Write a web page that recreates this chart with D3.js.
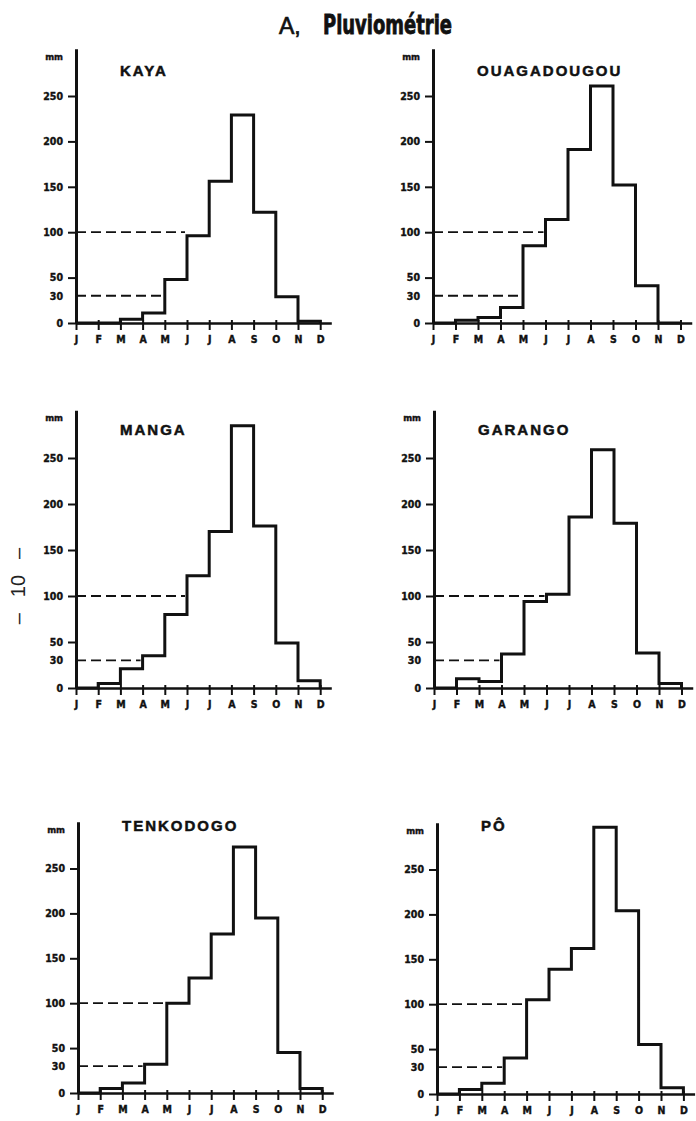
<!DOCTYPE html>
<html>
<head>
<meta charset="utf-8">
<script src="https://cdn.jsdelivr.net/npm/d3@7"></script>
<style>
  body { margin: 0; background: #fff; }
  svg { display: block; }
</style>
</head>
<body>
<svg id="chart" width="696" height="1121"></svg>
<script>
// monthly rainfall (mm)
const months = ["J", "F", "M", "A", "M", "J", "J", "A", "S", "O", "N", "D"];
const stations = ["KAYA", "OUAGADOUGOU", "MANGA", "GARANGO", "TENKODOGO", "PÔ"];
const kaya        = [0, 0, 4, 11, 48, 96, 156, 229, 122, 29, 2, 0];
const ouagadougou = [0, 3, 6, 17, 85, 114, 191, 261, 152, 41, 0, 0];
const manga       = [0, 5, 21, 35, 80, 122, 170, 285, 176, 49, 8, 0];
const garango     = [0, 10, 7, 37, 94, 102, 186, 259, 179, 38, 5, 0];
const tenkodogo   = [0, 5, 11, 32, 100, 128, 177, 274, 195, 45, 5, 0];
const po          = [0, 5, 12, 40, 105, 139, 162, 297, 204, 55, 7, 0];
const yTicks = [0, 30, 50, 100, 150, 200, 250];
const thresholds = [30, 100];

const series = [kaya, ouagadougou, manga, garango, tenkodogo, po];

// where each small chart sits on the page
const panels = [
  { x: 76,  zero: 323,  k: 0.908, step: 22.2, nameY: 76 },
  { x: 433, zero: 323,  k: 0.908, step: 22.5, nameY: 76 },
  { x: 76,  zero: 688,  k: 0.92,  step: 22.2, nameY: 435 },
  { x: 434, zero: 688,  k: 0.92,  step: 22.5, nameY: 435 },
  { x: 78,  zero: 1093, k: 0.898, step: 22.2, nameY: 831 },
  { x: 437, zero: 1094, k: 0.898, step: 22.4, nameY: 831 }
];

const labelFont = "'DejaVu Sans Condensed', 'DejaVu Sans', sans-serif";
const ink = "#111";
const svg = d3.select("#chart");

svg.append("rect").attr("width", 696).attr("height", 1121).attr("fill", "#fff");

// title
svg.append("text")
  .attr("x", 279)
  .attr("y", 34)
  .attr("fill", ink)
  .attr("stroke", ink)
  .attr("stroke-width", 0.7)
  .attr("font-family", "'Liberation Sans', Arial, sans-serif")
  .attr("font-size", 23)
  .text("A,");
svg.append("text")
  .attr("x", 323)
  .attr("y", 34)
  .attr("fill", ink)
  .attr("stroke", ink)
  .attr("stroke-width", 0.8)
  .attr("font-family", "'Liberation Sans Narrow', 'DejaVu Sans Condensed', sans-serif")
  .attr("font-weight", "bold")
  .attr("font-size", 26)
  .attr("textLength", 129)
  .attr("lengthAdjust", "spacingAndGlyphs")
  .text("Pluviométrie");

// page number down the left margin
const pageNo = svg.append("text")
  .attr("transform", "translate(25,586) rotate(-90)")
  .attr("text-anchor", "middle")
  .attr("font-family", "'Liberation Sans', Arial, sans-serif")
  .attr("font-size", 20)
  .attr("fill", "#222");
pageNo.append("tspan").text("–");
pageNo.append("tspan").attr("dx", 16).text("10");
pageNo.append("tspan").attr("dx", 16).text("–");

series.forEach((values, p) => {
  const pos = panels[p];
  const height = 302 * pos.k;

  const x = d3.scaleLinear()
    .domain([0, 11.5])
    .range([0, 11.5 * pos.step]);
  const y = d3.scaleLinear()
    .domain([0, 302])
    .range([0, -height]);

  const g = svg.append("g")
    .attr("transform", `translate(${pos.x},${pos.zero})`);

  // y axis
  const yAxis = d3.axisLeft(y)
    .tickValues(yTicks)
    .tickSize(8)
    .tickPadding(5)
    .tickSizeOuter(0)
    .tickFormat(d3.format("d"));
  const yg = g.append("g").call(yAxis);
  yg.select(".domain").attr("stroke", ink).attr("stroke-width", 3);
  yg.selectAll(".tick line")
    .attr("stroke", ink)
    .attr("stroke-width", 2)
    .attr("x2", d => d === 30 ? 0 : -8);
  yg.selectAll(".tick text")
    .attr("fill", ink)
    .attr("stroke", ink)
    .attr("stroke-width", 0.4)
    .attr("font-family", labelFont)
    .attr("font-weight", "bold")
    .attr("font-size", 10.5);

  yg.append("text")
    .attr("x", -13)
    .attr("y", y(293))
    .attr("dy", "0.3em")
    .attr("text-anchor", "end")
    .attr("fill", ink)
    .attr("stroke", ink)
    .attr("stroke-width", 0.4)
    .attr("font-family", labelFont)
    .attr("font-weight", "bold")
    .attr("font-size", 9.5)
    .text("mm");

  // x axis
  const xAxis = d3.axisBottom(x)
    .tickValues(d3.range(12))
    .tickSize(7)
    .tickPadding(6)
    .tickSizeOuter(0)
    .tickFormat(i => months[i]);
  const xg = g.append("g").call(xAxis);
  xg.select(".domain").attr("stroke", ink).attr("stroke-width", 2.5);
  xg.selectAll(".tick line")
    .attr("stroke", ink)
    .attr("stroke-width", 2)
    .attr("y1", -3);
  xg.selectAll(".tick text")
    .attr("fill", ink)
    .attr("stroke", ink)
    .attr("stroke-width", 0.4)
    .attr("font-family", labelFont)
    .attr("font-weight", "bold")
    .attr("font-size", 10.5);

  // dashed reference lines up to the month that reaches them
  thresholds.forEach(t => {
    const k = values.findIndex(v => v >= t - 5);
    g.append("line")
      .attr("x1", x(0))
      .attr("x2", x(k) - 2)
      .attr("y1", y(t))
      .attr("y2", y(t))
      .attr("stroke", ink)
      .attr("stroke-width", 1.8)
      .attr("stroke-dasharray", "10,5");
  });

  // monthly steps
  const line = d3.line()
    .curve(d3.curveStepAfter)
    .x(d => x(d[0]))
    .y(d => y(d[1]));
  g.append("path")
    .attr("fill", "none")
    .attr("stroke", ink)
    .attr("stroke-width", 3)
    .attr("stroke-linejoin", "miter")
    .attr("d", line(values.map((v, i) => [i, v])));

  // station name
  svg.append("text")
    .attr("x", pos.x + 44)
    .attr("y", pos.nameY)
    .attr("fill", ink)
    .attr("stroke", ink)
    .attr("stroke-width", 0.5)
    .attr("font-family", "'Liberation Sans', Arial, sans-serif")
    .attr("font-weight", "bold")
    .attr("font-size", 15)
    .attr("letter-spacing", 2)
    .text(stations[p]);
});
</script>
</body>
</html>
